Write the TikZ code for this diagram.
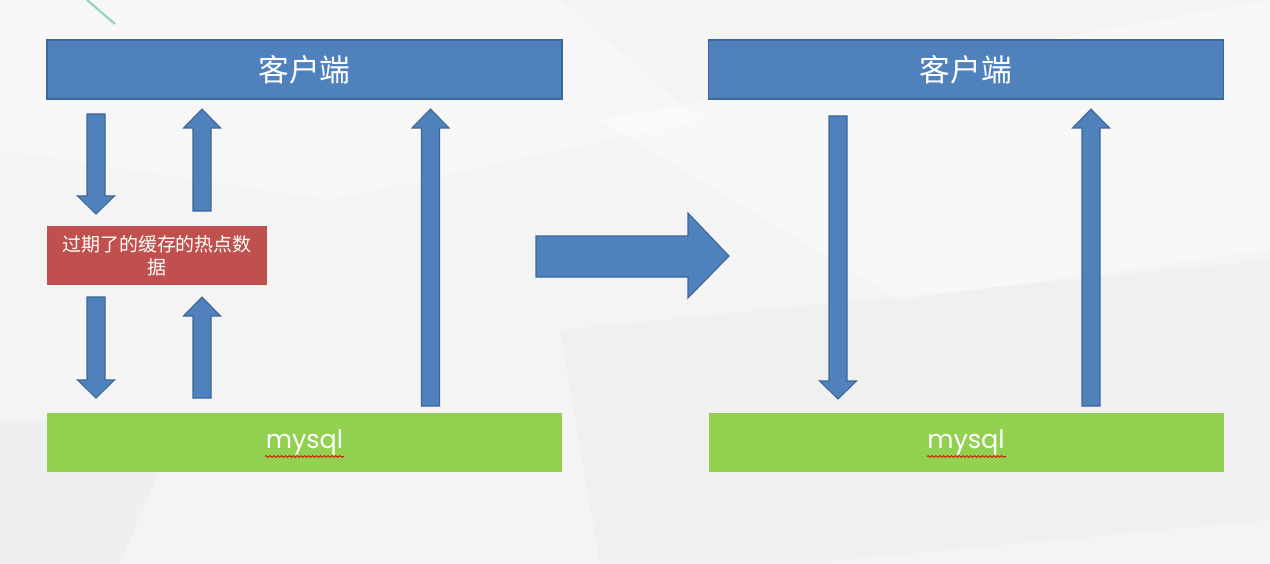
\documentclass[tikz,border=0pt]{standalone}
\usepackage{fontspec}
\setmainfont{Poppins}
\newfontfamily\cjk{Noto Sans CJK SC}
\usetikzlibrary{decorations.pathmorphing}
\definecolor{bgc}{HTML}{F4F4F4}
\definecolor{bluef}{HTML}{4F81BD}
\definecolor{blued}{HTML}{3E6798}
\definecolor{greenf}{HTML}{92D050}
\definecolor{redf}{HTML}{C0504D}
\definecolor{tealc}{HTML}{8FD3C3}
\newlength{\px}\setlength{\px}{0.02cm}
\tikzset{
  bluebox/.style={draw=blued,line width=0.6pt,fill=bluef,minimum width=515\px,minimum height=59\px,inner sep=0pt,text=white,font=\cjk\fontsize{17.5}{20}\selectfont},
  greenbox/.style={fill=greenf,minimum width=515\px,minimum height=59\px,inner sep=0pt,text=white,font=\fontsize{14.5}{17}\selectfont},
  redbox/.style={fill=redf,minimum width=220\px,minimum height=59\px,inner sep=0pt,text=white,align=center,font=\cjk\fontsize{10.8}{13}\selectfont},
  blockarrow/.style={draw=blued,line width=0.6pt,fill=bluef,line join=miter},
  squiggle/.style={draw=red!85!black,line width=0.45pt,decorate,decoration={snake,amplitude=0.5pt,segment length=2.2pt}}
}
% down arrow: cx, top, tip
\newcommand\dnarr[3]{\draw[blockarrow] ({#1-9},#2) -- ({#1+9},#2) -- ({#1+9},{#3-18}) -- ({#1+18.5},{#3-18}) -- (#1,#3) -- ({#1-18.5},{#3-18}) -- ({#1-9},{#3-18}) -- cycle;}
% up arrow: cx, tip, bottom
\newcommand\uparr[3]{\draw[blockarrow] ({#1-9},#3) -- ({#1+9},#3) -- ({#1+9},{#2+19}) -- ({#1+18.5},{#2+19}) -- (#1,#2) -- ({#1-18.5},{#2+19}) -- ({#1-9},{#2+19}) -- cycle;}
\begin{document}
\begin{tikzpicture}[x=0.02cm,y=-0.02cm]
\fill[bgc] (0,0) rectangle (1270,564);
\useasboundingbox (0,0) rectangle (1270,564);
% faint background facets
\fill[white,opacity=0.35] (0,0) -- (560,0) -- (700,120) -- (330,200) -- (0,150) -- cycle;
\fill[white,opacity=0.4] (600,120) -- (1270,0) -- (1270,250) -- (900,300) -- cycle;
\fill[black,opacity=0.02] (0,420) -- (180,420) -- (120,564) -- (0,564) -- cycle;
\fill[black,opacity=0.015] (560,330) -- (1270,260) -- (1270,520) -- (800,564) -- (600,564) -- cycle;
\draw[tealc,line width=1.2pt] (87,0) -- (115,24);
% boxes
\node[bluebox] (c1) at (304.5,69.5) {客户端};
\node[bluebox] (c2) at (966,69.5) {客户端};
\node[greenbox] (m1) at (304.5,442.5) {\raisebox{-2pt}{mysql}};
\node[greenbox] (m2) at (966,442.5) {\raisebox{-2pt}{mysql}};
\node[redbox] (r) at (157,255.5) {过期了的缓存的热点数\\据};
\draw[squiggle] (265,456.5) -- (344,456.5);
\draw[squiggle] (927,456.5) -- (1006,456.5);
% arrows
\dnarr{96}{114}{214}
\uparr{202}{109}{211}
\dnarr{96}{297}{398}
\uparr{202}{297}{398}
\uparr{430.5}{109}{406}
\dnarr{838}{116}{399}
\uparr{1091}{109}{406}
\draw[blockarrow] (536,236) -- (688,236) -- (688,213) -- (729,256) -- (688,298) -- (688,277) -- (536,277) -- cycle;
\end{tikzpicture}
\end{document}
